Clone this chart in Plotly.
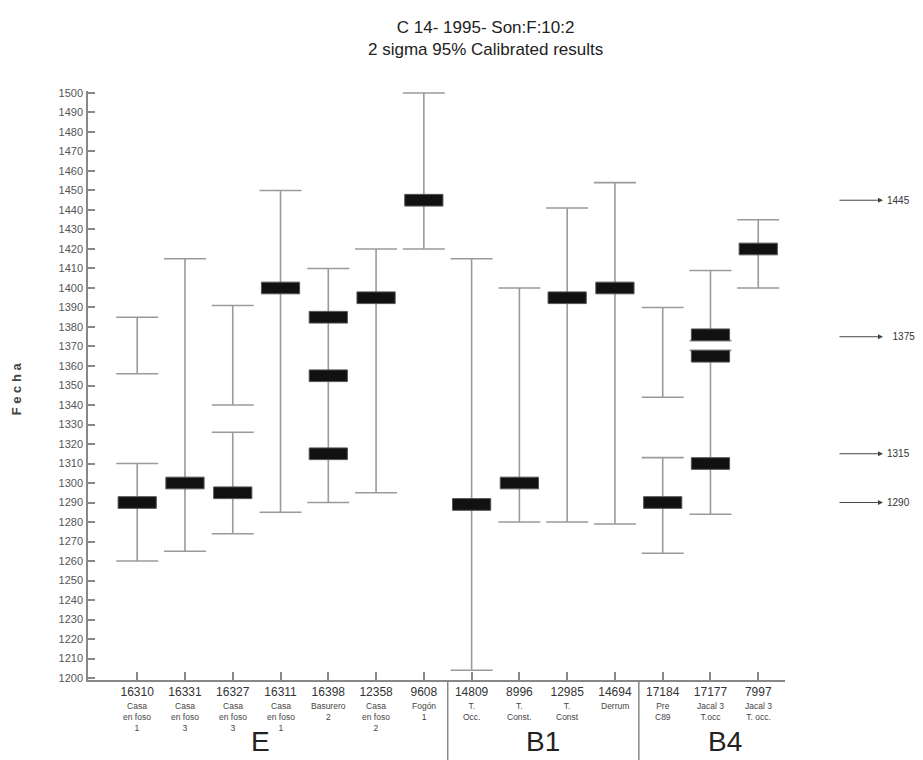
import plotly.graph_objects as go

# ---------------- data ----------------
samples = ["16310", "16331", "16327", "16311", "16398", "12358", "9608",
           "14809", "8996", "12985", "14694", "17184", "17177", "7997"]
descs = ["Casa<br>en foso<br>1", "Casa<br>en foso<br>3", "Casa<br>en foso<br>3",
         "Casa<br>en foso<br>1", "Basurero<br>2", "Casa<br>en foso<br>2", "Fogón<br>1",
         "T.<br>Occ.", "T.<br>Const.", "T.<br>Const", "Derrum",
         "Pre<br>C89", "Jacal 3<br>T.occ", "Jacal 3<br>T. occ."]

# 2-sigma calibrated ranges (low, high) per sample
ranges = [
    [(1356, 1385), (1260, 1310)],
    [(1265, 1415)],
    [(1340, 1391), (1274, 1326)],
    [(1285, 1450)],
    [(1290, 1410)],
    [(1295, 1420)],
    [(1420, 1500)],
    [(1204, 1415)],
    [(1280, 1400)],
    [(1280, 1441)],
    [(1279, 1454)],
    [(1344, 1390), (1264, 1313)],
    [(1373, 1409), (1284, 1368)],
    [(1400, 1435)],
]
# calibrated intercepts (black boxes)
intercepts = [
    [1290], [1300], [1295], [1400], [1385, 1355, 1315], [1395], [1445],
    [1289], [1300], [1395], [1400],
    [1290], [1376, 1365, 1310], [1420],
]
group_names = ["E", "B1", "B4"]
group_first = [0, 7, 11]
group_last = [6, 10, 13]

marker_values = [1445, 1375, 1315, 1290]
marker_labels = ["1445", "  1375", "1315", "1290"]

y_ticks = list(range(1200, 1501, 10))

# ---------------- styles ----------------
FONT = "Liberation Sans, Arial, sans-serif"
LINE_C = "#9a9a9a"
BOX_HALF_W = 0.40
BOX_HALF_H = 3.0
group_xshift = [-20, 0, 15]

idx = list(range(len(samples)))

# range bars (error bars around mid-point)
rx, rmid, rhalf = [], [], []
for i, rr in zip(idx, ranges):
    for lo, hi in rr:
        rx.append(i)
        rmid.append((lo + hi) / 2)
        rhalf.append((hi - lo) / 2)

# boxes
bx, by = [], []
for i, cs in zip(idx, intercepts):
    for c in cs:
        bx += [i - BOX_HALF_W, i + BOX_HALF_W, i + BOX_HALF_W, i - BOX_HALF_W, i - BOX_HALF_W, None]
        by += [c - BOX_HALF_H, c - BOX_HALF_H, c + BOX_HALF_H, c + BOX_HALF_H, c - BOX_HALF_H, None]

fig = go.Figure()
fig.add_trace(go.Scatter(
    x=rx, y=rmid, mode="markers",
    marker=dict(size=1, color="rgba(0,0,0,0)"),
    error_y=dict(type="data", symmetric=True, array=rhalf,
                 width=21, thickness=1.6, color=LINE_C),
    hoverinfo="skip", showlegend=False))
fig.add_trace(go.Scatter(
    x=bx, y=by, mode="lines", fill="toself",
    fillcolor="#111111", line=dict(color="#555555", width=1),
    hoverinfo="skip", showlegend=False))

annotations = []
# descriptions under sample ids
for i, d in zip(idx, descs):
    annotations.append(dict(x=i, xref="x", y=-0.032, yref="paper", text=d,
                            showarrow=False, yanchor="top", xanchor="center",
                            font=dict(family=FONT, size=8.5, color="#444")))
# group labels
for name, a, b, xs in zip(group_names, group_first, group_last, group_xshift):
    annotations.append(dict(x=(a + b) / 2, xref="x", y=-0.1036, yref="paper", text=name,
                            showarrow=False, yanchor="middle", xanchor="center", xshift=xs,
                            font=dict(family=FONT, size=28, color="#222")))
# right-side markers
for v, lab in zip(marker_values, marker_labels):
    annotations.append(dict(x=1.1406, xref="paper", y=v, yref="y", text="",
                            showarrow=True, ax=-45, ay=0, arrowhead=2, arrowsize=1,
                            arrowwidth=1, arrowcolor="#444"))
    annotations.append(dict(x=1.1435, xref="paper", y=v, yref="y", text=lab,
                            showarrow=False, xanchor="left", yanchor="middle",
                            font=dict(family=FONT, size=10, color="#333")))
# y-axis title
annotations.append(dict(x=-0.102, xref="paper", y=0.495, yref="paper", text="<b>F e c h a</b>",
                        showarrow=False, textangle=-90, xanchor="center", yanchor="middle",
                        font=dict(family=FONT, size=13, color="#444")))
# title
annotations.append(dict(x=(485 - 88) / 697, xref="paper", y=1, yref="paper",
                        text="C 14- 1995- Son:F:10:2<br>2 sigma 95% Calibrated results",
                        showarrow=False, xanchor="center", yanchor="bottom", yshift=30,
                        font=dict(family=FONT, size=17, color="#222")))

shapes = []
for a, b in zip(group_first[1:], group_last[:-1]):
    xsep = (a + b) / 2
    shapes.append(dict(type="line", xref="x", yref="paper", x0=xsep, x1=xsep,
                       y0=0, y1=-0.14, line=dict(color="#888", width=1.5)))

# page body has an 8px margin: the figure is sized/placed to fill the 923x760 window
fig.update_layout(
    width=915, height=752, autosize=False,
    margin=dict(l=80, r=138, t=83, b=80),
    paper_bgcolor="white", plot_bgcolor="white",
    showlegend=False,
    annotations=annotations, shapes=shapes,
    xaxis=dict(range=[-1.03, 13.56], tickmode="array", tickvals=idx, ticktext=samples,
               ticks="inside", ticklen=8, tickwidth=2, tickcolor="#888",
               showline=True, linecolor="#888", linewidth=1.5, showgrid=False,
               zeroline=False, tickfont=dict(family=FONT, size=12, color="#333")),
    yaxis=dict(range=[1199, 1501], tickmode="array", tickvals=y_ticks,
               ticks="inside", ticklen=7, tickwidth=2, tickcolor="#888",
               showline=True, linecolor="#888", linewidth=1.5, showgrid=False,
               zeroline=False, ticklabelstandoff=1,
               tickfont=dict(family=FONT, size=11, color="#555")),
)

fig.write_html("out.html")
